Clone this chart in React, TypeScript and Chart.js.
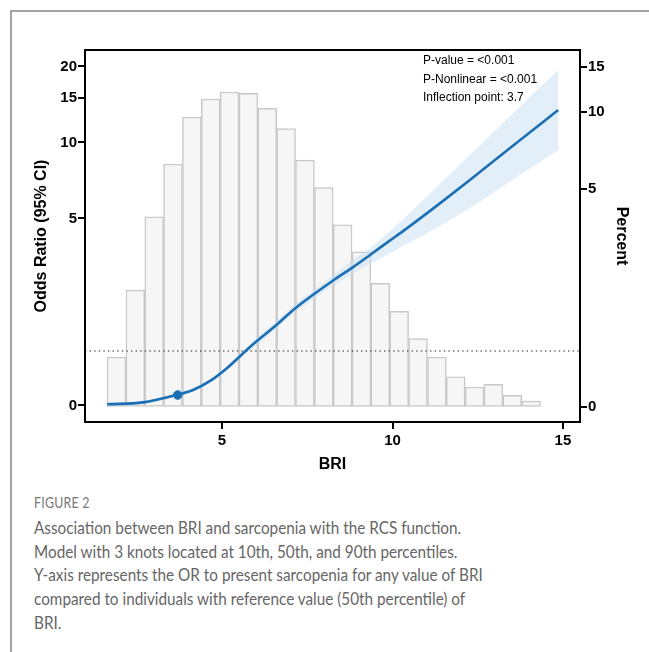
import React, { useEffect, useRef } from "react";
import { Chart, registerables } from "chart.js";

Chart.register(...registerables);

// ---- Histogram of BRI (right axis, "Percent") ----
const BIN_CENTERS = [
  1.904, 2.457, 3.01, 3.562, 4.115, 4.668, 5.221, 5.774, 6.326, 6.879, 7.432, 7.985,
  8.538, 9.09, 9.643, 10.196, 10.749, 11.302, 11.854, 12.407, 12.96, 13.513, 14.066,
];
const BIN_PERCENT = [
  1.1, 2.01, 3.89, 6.26, 9.56, 11.25, 11.98, 11.84, 10.35, 8.61, 6.49, 5.06,
  3.62, 2.84, 2.14, 1.66, 1.3, 1.1, 0.92, 0.84, 0.86, 0.78, 0.74,
];
const PERCENT_ZERO = 0.705;

// ---- RCS curve (left axis, odds ratio) ----
const CURVE_BRI = [
  1.63, 2.68, 3.65, 4.15, 4.65, 5.15, 5.82, 6.61, 7.14, 7.68, 8.26, 8.8,
  9.34, 9.88, 10.42, 11.39, 12.27, 13.56, 14.86,
];
const CURVE_OR = [
  0.919, 0.935, 1.0, 1.047, 1.137, 1.28, 1.55, 1.902, 2.201, 2.501, 2.842,
  3.18, 3.585, 4.05, 4.57, 5.74, 7.1, 9.77, 13.44,
];
const CI_LOWER = [
  0.906, 0.921, 0.985, 1.031, 1.118, 1.255, 1.51, 1.835, 2.13, 2.4, 2.72,
  3.01, 3.3, 3.61, 3.96, 4.67, 5.5, 7.17, 9.34,
];
const CI_UPPER = [
  0.932, 0.949, 1.015, 1.063, 1.156, 1.306, 1.59, 1.97, 2.28, 2.6, 2.98,
  3.39, 3.82, 4.4, 5.12, 6.85, 8.92, 13.14, 19.36,
];
const INFLECTION_BRI = 3.7;
const INFLECTION_OR = 1.0;
const REF_OR = 1.494;

// ---- Axes ----
const X_MIN = 0.98;
const X_MAX = 15.5;
const X_TICKS = [5, 10, 15];
const LEFT_MIN = 0.782;
const LEFT_MAX = 23.23;
const LEFT_TICK_VALUES = [0.909, 5, 10, 15, 20];
const LEFT_TICK_LABELS = ["0", "5", "10", "15", "20"];
const RIGHT_MIN = 0.613;
const RIGHT_MAX = 17.49;
const RIGHT_TICK_VALUES = [0.7, 5, 10, 15];
const RIGHT_TICK_LABELS = ["0", "5", "10", "15"];

const ANNOTATION_LINES = ["P-value = <0.001", "P-Nonlinear = <0.001", "Inflection point: 3.7"];
const CAPTION_LINES = [
  "Association between BRI and sarcopenia with the RCS function.",
  "Model with 3 knots located at 10th, 50th, and 90th percentiles.",
  "Y-axis represents the OR to present sarcopenia for any value of BRI",
  "compared to individuals with reference value (50th percentile) of",
  "BRI.",
];

const BLUE = "#1a6fb4";
const AXIS_FONT = '"Liberation Sans", Arial, Helvetica, sans-serif';

const frameTopPlugin = {
  id: "frameTop",
  afterDraw(chart: any) {
    const { ctx, chartArea } = chart;
    ctx.save();
    ctx.beginPath();
    ctx.moveTo(chartArea.left - 1, chartArea.top);
    ctx.lineTo(chartArea.right + 1, chartArea.top);
    ctx.lineWidth = 2;
    ctx.strokeStyle = "#000";
    ctx.stroke();
    ctx.font = "12px " + AXIS_FONT;
    ctx.fillStyle = "#000";
    ctx.textBaseline = "middle";
    ctx.textAlign = "left";
    ANNOTATION_LINES.forEach((t, i) => {
      ctx.fillText(t, chartArea.right - 157, chartArea.top + 11 + i * 18.3);
    });
    ctx.restore();
  },
};

export default function App() {
  const ref = useRef<HTMLCanvasElement>(null);

  useEffect(() => {
    const bars = BIN_CENTERS.map((x, i) => ({ x, y: [PERCENT_ZERO, BIN_PERCENT[i]] }));
    const curve = CURVE_BRI.map((x, i) => ({ x, y: CURVE_OR[i] }));
    const lower = CURVE_BRI.map((x, i) => ({ x, y: CI_LOWER[i] }));
    const upper = CURVE_BRI.map((x, i) => ({ x, y: CI_UPPER[i] }));
    const refLine = [
      { x: X_MIN, y: REF_OR },
      { x: X_MAX, y: REF_OR },
    ];

    const tickFont = { family: AXIS_FONT, size: 15, weight: "bold" as const };
    const titleFont = { family: AXIS_FONT, size: 16, weight: "bold" as const };

    const chart = new Chart(ref.current as HTMLCanvasElement, {
      type: "line",
      data: {
        datasets: [
          {
            type: "bar",
            data: bars as any,
            xAxisID: "x",
            yAxisID: "y2",
            backgroundColor: "#f7f6f7",
            borderColor: "#c9c9c9",
            borderWidth: 1.5,
            borderSkipped: false,
            barPercentage: 1,
            categoryPercentage: 1,
            order: 10,
          } as any,
          {
            type: "line",
            data: lower,
            yAxisID: "y",
            borderWidth: 0,
            pointRadius: 0,
            cubicInterpolationMode: "monotone",
            fill: false,
            order: 6,
          },
          {
            type: "line",
            data: upper,
            yAxisID: "y",
            borderWidth: 0,
            pointRadius: 0,
            cubicInterpolationMode: "monotone",
            fill: "-1",
            backgroundColor: "rgba(200, 224, 241, 0.5)",
            order: 5,
          },
          {
            type: "line",
            data: refLine,
            yAxisID: "y",
            borderColor: "#222",
            borderWidth: 1.2,
            borderDash: [1.4, 3.2],
            pointRadius: 0,
            order: 3,
          },
          {
            type: "line",
            data: curve,
            yAxisID: "y",
            borderColor: BLUE,
            borderWidth: 2.6,
            pointRadius: 0,
            cubicInterpolationMode: "monotone",
            order: 2,
          },
          {
            type: "line",
            data: [{ x: INFLECTION_BRI, y: INFLECTION_OR }],
            yAxisID: "y",
            showLine: false,
            pointRadius: 4.3,
            pointBackgroundColor: BLUE,
            pointBorderColor: BLUE,
            order: 1,
          },
        ],
      },
      options: {
        animation: false,
        responsive: false,
        devicePixelRatio: 1,
        layout: { padding: { top: 50, left: 0, right: 0, bottom: 0 } },
        plugins: { legend: { display: false }, tooltip: { enabled: false } },
        scales: {
          x: {
            type: "linear",
            min: X_MIN,
            max: X_MAX,
            offset: false,
            grid: {
              offset: false,
              drawOnChartArea: false,
              drawTicks: true,
              tickLength: 7,
              color: "#000",
              lineWidth: 2,
            },
            border: { display: true, color: "#000", width: 2 },
            ticks: { color: "#000", font: tickFont, padding: 3, autoSkip: false, maxRotation: 0 },
            afterBuildTicks: (s: any) => {
              s.ticks = X_TICKS.map((v) => ({ value: v }));
            },
            afterFit: (s: any) => {
              s.height = 58;
            },
            title: {
              display: true,
              text: "BRI",
              color: "#000",
              font: titleFont,
              padding: { top: 0, bottom: 6 },
            },
          },
          y: {
            type: "logarithmic",
            position: "left",
            min: LEFT_MIN,
            max: LEFT_MAX,
            bounds: "data",
            grid: {
              drawOnChartArea: false,
              drawTicks: true,
              tickLength: 7,
              color: "#000",
              lineWidth: 2,
            },
            border: { display: true, color: "#000", width: 2 },
            ticks: {
              color: "#000",
              font: tickFont,
              padding: 1,
              autoSkip: false,
              callback: (_v: any, i: number) => LEFT_TICK_LABELS[i],
            },
            afterBuildTicks: (s: any) => {
              s.ticks = LEFT_TICK_VALUES.map((v) => ({ value: v }));
            },
            afterFit: (s: any) => {
              s.width = 85;
            },
            title: {
              display: true,
              text: "Odds Ratio (95% CI)",
              color: "#000",
              font: titleFont,
              padding: { top: 32, bottom: 0 },
            },
          },
          y2: {
            type: "logarithmic",
            position: "right",
            min: RIGHT_MIN,
            max: RIGHT_MAX,
            bounds: "data",
            grid: {
              drawOnChartArea: false,
              drawTicks: true,
              tickLength: 7,
              color: "#000",
              lineWidth: 2,
            },
            border: { display: true, color: "#000", width: 2 },
            ticks: {
              color: "#000",
              font: tickFont,
              padding: 1,
              autoSkip: false,
              callback: (_v: any, i: number) => RIGHT_TICK_LABELS[i],
            },
            afterBuildTicks: (s: any) => {
              s.ticks = RIGHT_TICK_VALUES.map((v) => ({ value: v }));
            },
            afterFit: (s: any) => {
              s.width = 69;
            },
            title: {
              display: true,
              text: "Percent",
              color: "#000",
              font: titleFont,
              padding: { top: 18, bottom: 0 },
            },
          },
        },
      } as any,
      plugins: [frameTopPlugin],
    });
    return () => chart.destroy();
  }, []);

  return (
    <div
      style={{
        position: "absolute",
        left: 0,
        top: 0,
        width: 649,
        height: 652,
        background: "#fff",
        overflow: "hidden",
      }}
    >
      <div
        style={{
          position: "absolute",
          left: 10,
          top: 10,
          width: 639,
          height: 642,
          borderTop: "2px solid #a3a3a3",
          borderLeft: "2px solid #a3a3a3",
        }}
      />
      <canvas
        ref={ref}
        width={649}
        height={480}
        style={{ position: "absolute", left: 0, top: 0, width: 649, height: 480 }}
      />
      <div
        style={{
          position: "absolute",
          left: 34,
          top: 494,
          fontFamily: 'Lato, "Open Sans", sans-serif',
          whiteSpace: "nowrap",
          transform: "scaleX(0.85)",
          transformOrigin: "0 0",
        }}
      >
        <div style={{ fontSize: 14.5, lineHeight: "18px", color: "#777", letterSpacing: 0.3 }}>
          FIGURE 2
        </div>
        <div style={{ fontSize: 18, lineHeight: "23.7px", marginTop: 4, color: "#666" }}>
          {CAPTION_LINES.map((l) => (
            <div key={l}>{l}</div>
          ))}
        </div>
      </div>
    </div>
  );
}
